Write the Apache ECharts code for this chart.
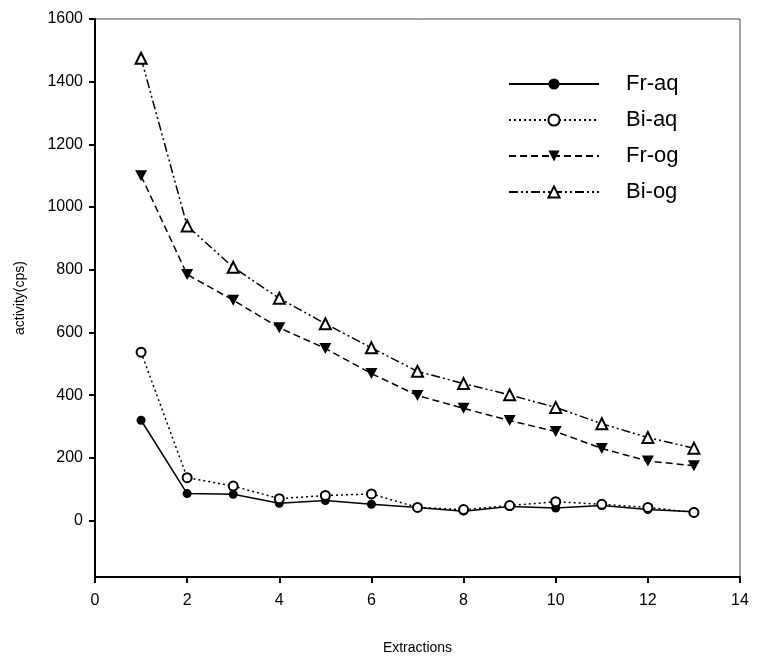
<!DOCTYPE html>
<html>
<head>
<meta charset="utf-8">
<script src="https://cdn.jsdelivr.net/npm/echarts@6/dist/echarts.min.js"></script>
<style>
html,body{margin:0;padding:0;background:#fff;}
#chart{width:758px;height:668px;}
</style>
</head>
<body>
<div id="chart"></div>
<script>
const extractions = [1,2,3,4,5,6,7,8,9,10,11,12,13];
const frAq = [320, 86, 84, 55, 64, 52, 42, 30, 45, 40, 48, 35, 28];
const biAq = [537, 137, 110, 70, 80, 85, 42, 35, 48, 60, 52, 42, 26];
const frOg = [1100, 785, 703, 615, 549, 469, 399, 358, 319, 284, 230, 190, 175];
const biOg = [1475, 940, 808, 709, 628, 551, 476, 437, 401, 361, 309, 265, 231];
const yTicks = [0,200,400,600,800,1000,1200,1400,1600];

const font = 'Liberation Sans, Arial, sans-serif';
function pairs(v){ return extractions.map((x,i)=>[x, v[i]]); }

const downTri = 'path://M0,0 L10,0 L5,9 Z';

const chart = echarts.init(document.getElementById('chart'));
chart.setOption({
  animation: false,
  backgroundColor: '#fff',
  grid: {left: 95, right: 18, top: 19, bottom: 91, show: true, borderColor: '#444', borderWidth: 1, backgroundColor: 'transparent'},
  legend: {
    orient: 'vertical', left: 503, top: 68,
    itemWidth: 90, itemHeight: 14, itemGap: 14,
    textStyle: {fontFamily: font, fontSize: 22, color: '#000', lineHeight: 22, padding: [0,0,0,22]},
    data: ['Fr-aq','Bi-aq','Fr-og','Bi-og']
  },
  xAxis: {
    type: 'value', min: 0, max: 14, interval: 2,
    name: 'Extractions', nameLocation: 'middle', nameGap: 64,
    nameTextStyle: {fontFamily: font, fontSize: 14, color: '#000'},
    axisLine: {show: true, onZero: false, lineStyle: {color: '#000', width: 2}},
    axisTick: {show: true, inside: false, length: 6, lineStyle: {color: '#000', width: 2}},
    axisLabel: {fontFamily: font, fontSize: 16, color: '#000', margin: 16},
    splitLine: {show: false}
  },
  yAxis: {
    type: 'value', min: -180, max: 1600,
    name: 'activity(cps)', nameLocation: 'middle', nameGap: 68,
    nameTextStyle: {fontFamily: font, fontSize: 14, color: '#000'},
    axisLine: {show: true, onZero: false, lineStyle: {color: '#000', width: 2}},
    axisTick: {show: true, inside: false, length: 6, lineStyle: {color: '#000', width: 2}, customValues: yTicks},
    axisLabel: {fontFamily: font, fontSize: 16, color: '#000', margin: 12, customValues: yTicks,
      formatter: v => String(v)},
    splitLine: {show: false}
  },
  series: [
    {name: 'Fr-aq', type: 'line', data: pairs(frAq), symbol: 'circle', symbolSize: 9,
     itemStyle: {color: '#000'}, lineStyle: {color: '#000', width: 1.5, type: 'solid'}},
    {name: 'Bi-aq', type: 'line', data: pairs(biAq), symbol: 'emptyCircle', symbolSize: 9,
     itemStyle: {color: '#000', borderWidth: 2}, lineStyle: {color: '#000', width: 1.5, type: [2,3]}},
    {name: 'Fr-og', type: 'line', data: pairs(frOg), symbol: downTri, symbolSize: [12,11],
     itemStyle: {color: '#000'}, lineStyle: {color: '#000', width: 1.5, type: [7,4]}},
    {name: 'Bi-og', type: 'line', data: pairs(biOg), symbol: 'emptyTriangle', symbolSize: [11,11],
     itemStyle: {color: '#000', borderWidth: 2}, lineStyle: {color: '#000', width: 1.5, type: [9,3,2,3,2,3]}}
  ]
});
</script>
</body>
</html>
